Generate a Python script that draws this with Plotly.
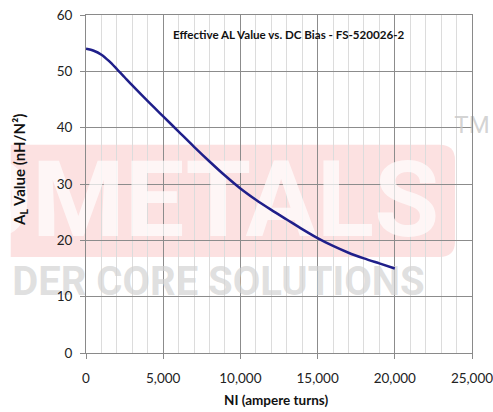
import plotly.graph_objects as go

# ---- data ----
ni_ampere_turns = [0, 500, 1000, 1500, 2000, 2500, 3000, 4000, 5000, 6000, 7000, 8000, 9000, 10000,
                   11000, 12000, 13000, 14000, 15000, 16000, 17000, 18000, 19000, 20000]
al_value = [54.0, 53.65, 52.95, 51.8, 50.4, 48.95, 47.5, 44.7, 42.0, 39.3, 36.6, 34.0, 31.5, 29.2,
            27.2, 25.4, 23.7, 22.0, 20.4, 19.0, 17.8, 16.8, 15.9, 15.0]

x_tick_vals = [0, 5000, 10000, 15000, 20000, 25000]
x_tick_text = ["0", "5,000", "10,000", "15,000", "20,000", "25,000"]
y_tick_vals = [0, 10, 20, 30, 40, 50, 60]

X_RANGE = [0, 25000]
Y_RANGE = [0, 60]

title_text = "Effective AL Value vs. DC Bias - FS-520026-2"
x_title = "NI (ampere turns)"
y_title = "A<sub>L</sub> Value (nH/N²)"

FONT = "Lato"


def fx(f):
    return X_RANGE[0] + f * (X_RANGE[1] - X_RANGE[0])


def fy(f):
    return Y_RANGE[0] + f * (Y_RANGE[1] - Y_RANGE[0])


fig = go.Figure()

# watermark text (drawn before the curve so the curve stays on top)
fig.add_trace(go.Scatter(
    x=[fx(0.293)], y=[fy(0.425)], mode="text", text=["OMETALS"],
    textfont=dict(family="Roboto", size=106, color="rgba(255,255,255,0.7)", weight="bold"),
    cliponaxis=False, hoverinfo="skip", showlegend=False,
))
fig.add_trace(go.Scatter(
    x=[fx(0.343)], y=[fy(0.202)], mode="text", text=["DER CORE SOLUTIONS"],
    textfont=dict(family="Roboto", size=40, color="rgba(210,210,210,0.7)", weight="bold"),
    cliponaxis=False, hoverinfo="skip", showlegend=False,
))
fig.add_trace(go.Scatter(
    x=[fx(1.0)], y=[fy(0.67)], mode="text", text=["TM"],
    textfont=dict(family="Roboto", size=24, color="rgba(200,200,200,0.8)"),
    cliponaxis=False, hoverinfo="skip", showlegend=False,
))

fig.add_trace(go.Scatter(
    x=ni_ampere_turns, y=al_value, mode="lines",
    line=dict(color="#1f1f8a", width=2.5, shape="spline", smoothing=0.8),
    showlegend=False,
))

# pink watermark band (behind gridlines)
x0, x1, y0, y1 = -0.195, 0.956, 0.284, 0.616
r = 0.04
ry = r * 386 / 338
fig.add_shape(
    type="path", xref="paper", yref="paper", layer="below",
    path=(f"M {x0},{y0} L {x1 - r},{y0} Q {x1},{y0} {x1},{y0 + ry} "
          f"L {x1},{y1 - ry} Q {x1},{y1} {x1 - r},{y1} L {x0},{y1} Z"),
    fillcolor="rgba(240,120,120,0.22)", line=dict(width=0),
)

axis_common = dict(
    showline=True, linecolor="#8a8a8a", linewidth=1, mirror=True,
    ticks="outside", ticklen=5, tickcolor="#8a8a8a",
    tickfont=dict(family=FONT, size=13.5, color="#222222"),
    zeroline=False, automargin=False, ticklabeloverflow="allow",
)

fig.update_xaxes(
    range=X_RANGE, tickvals=x_tick_vals, ticktext=x_tick_text,
    showgrid=True, gridcolor="#8c8c8c", gridwidth=1,
    minor=dict(dtick=1000, showgrid=True, gridcolor="#dcdcdc", gridwidth=1, ticks=""),
    ticklabelstandoff=8,
    **axis_common,
)
fig.update_yaxes(
    range=Y_RANGE, tickvals=y_tick_vals,
    showgrid=True, gridcolor="#8c8c8c", gridwidth=1,
    ticklabelstandoff=5,
    **axis_common,
)

fig.add_annotation(
    text=f"<b>{title_text}</b>", xref="paper", yref="paper",
    x=0.526, y=0.942, showarrow=False, xanchor="center", yanchor="middle",
    font=dict(family=FONT, size=11.6, color="#111111"),
)
fig.add_annotation(
    text=f"<b>{x_title}</b>", xref="paper", yref="paper",
    x=0.491, y=-0.139, showarrow=False, xanchor="center", yanchor="middle",
    font=dict(family=FONT, size=13.5, color="#111111"),
)
fig.add_annotation(
    text=f"<b>{y_title}</b>", xref="paper", yref="paper",
    x=(20 - 86) / 386, y=(353 - 170) / 338, showarrow=False, textangle=-90,
    xanchor="center", yanchor="middle",
    font=dict(family=FONT, size=15, color="#111111"),
)

fig.update_layout(
    template="none",
    width=493, height=412,
    margin=dict(l=86, r=21, t=15, b=59, autoexpand=False),
    paper_bgcolor="white", plot_bgcolor="rgba(0,0,0,0)",
    showlegend=False,
)

# remove the browser's default body margin so the 493x412 figure fills the window exactly
fig.write_html(
    "out.html",
    config={"displayModeBar": False},
    post_script="document.body.style.margin='0';document.body.style.overflow='hidden';",
)
